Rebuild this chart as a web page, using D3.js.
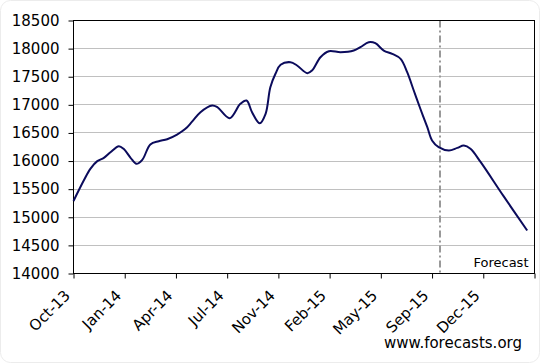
<!DOCTYPE html>
<html>
<head>
<meta charset="utf-8">
<script src="https://cdn.jsdelivr.net/npm/d3@7"></script>
<style>
  body { margin: 0; background: #fff; }
  svg { display: block; }
</style>
</head>
<body>
<div id="wrapper"></div>
<script>
// category axis: one label every 14 periods
const tickLabels = ["Oct-13", "Jan-14", "Apr-14", "Jul-14", "Nov-14", "Feb-15", "May-15", "Sep-15", "Dec-15"]
const periodsPerTick = 14
const totalPeriods = 126
const forecastStart = 100.3

// period index and value
const periods = [0, 2.8, 4.6, 6.5, 8.3, 10.1, 12.4, 13.7, 15.6, 17.2, 18.8, 21.0, 23.3, 25.6, 28.3, 30.6, 32.4, 34.7, 37.9, 39.3, 42.7, 45.6, 47.3, 48.8, 50.9, 52.5, 53.8, 55.2, 56.6, 59.3, 61.1, 63.9, 65.2, 67.5, 69.8, 73.0, 76.6, 78.4, 80.7, 82.5, 84.8, 87.1, 89.4, 91.2, 93.0, 94.8, 96.7, 98.0, 99.8, 102.6, 104.9, 106.7, 108.5, 111.3, 117.5, 124.0]
const values = [15290, 15654, 15862, 15998, 16058, 16158, 16265, 16217, 16058, 15951, 16022, 16295, 16353, 16389, 16472, 16573, 16700, 16869, 16988, 16958, 16762, 17018, 17077, 16869, 16673, 16841, 17314, 17552, 17712, 17758, 17700, 17563, 17611, 17847, 17953, 17936, 17966, 18025, 18114, 18096, 17966, 17907, 17818, 17581, 17255, 16930, 16602, 16366, 16247, 16188, 16235, 16277, 16218, 15980, 15380, 14765]

const yTicks = d3.range(14000, 18501, 500)

const dataset = periods.map((p, i) => ({ period: p, value: values[i] }))
const xAccessor = d => d.period
const yAccessor = d => d.value

let dimensions = {
  width: 540,
  height: 363,
  margin: { top: 20.5, right: 5.5, bottom: 89.5, left: 73.5 },
}
dimensions.boundedWidth = dimensions.width - dimensions.margin.left - dimensions.margin.right
dimensions.boundedHeight = dimensions.height - dimensions.margin.top - dimensions.margin.bottom

const wrapper = d3.select("#wrapper")
  .append("svg")
  .attr("width", dimensions.width)
  .attr("height", dimensions.height)
  .style("font-family", "'DejaVu Sans', Verdana, sans-serif")

// faint rounded frame around the whole chart
wrapper.append("rect")
  .attr("x", 0.5).attr("y", 0.5)
  .attr("width", dimensions.width - 1).attr("height", dimensions.height - 1)
  .attr("rx", 10)
  .attr("fill", "none")
  .attr("stroke", "#ececec")

const bounds = wrapper.append("g")
  .attr("transform", `translate(${dimensions.margin.left}, ${dimensions.margin.top})`)

const xScale = d3.scaleLinear()
  .domain([0, totalPeriods])
  .range([0, dimensions.boundedWidth])

const yScale = d3.scaleLinear()
  .domain([14000, 18500])
  .range([dimensions.boundedHeight, 0])

// gridlines
bounds.append("g")
  .selectAll("line")
  .data(yTicks.slice(1, -1))
  .join("line")
  .attr("x1", 0)
  .attr("x2", dimensions.boundedWidth)
  .attr("y1", d => Math.round(yScale(d)))
  .attr("y2", d => Math.round(yScale(d)))
  .attr("stroke", "#c0c0c0")

// forecast divider
bounds.append("line")
  .attr("x1", Math.round(xScale(forecastStart)) - 0.5)
  .attr("x2", Math.round(xScale(forecastStart)) - 0.5)
  .attr("y1", 0)
  .attr("y2", dimensions.boundedHeight)
  .attr("stroke", "#999")
  .attr("stroke-width", 2)
  .attr("stroke-dasharray", "7,3,2,3")

// plot frame
bounds.append("rect")
  .attr("width", dimensions.boundedWidth)
  .attr("height", dimensions.boundedHeight)
  .attr("fill", "none")
  .attr("stroke", "#000")

const lineGenerator = d3.line()
  .x(d => xScale(xAccessor(d)))
  .y(d => yScale(yAccessor(d)))
  .curve(d3.curveCatmullRom.alpha(0.5))

bounds.append("path")
  .attr("d", lineGenerator(dataset))
  .attr("fill", "none")
  .attr("stroke", "#0b0b5c")
  .attr("stroke-width", 2)
  .attr("stroke-linejoin", "round")

// y axis
const yAxisGenerator = d3.axisLeft(yScale)
  .tickValues(yTicks)
  .tickFormat(d3.format("d"))
  .tickSize(5)
  .tickPadding(9)

const yAxis = bounds.append("g").call(yAxisGenerator)
yAxis.select(".domain").remove()
yAxis.selectAll("line").attr("stroke", "#000")
yAxis.selectAll("text")
  .attr("fill", "#000")
  .style("font-size", "15px")
  .style("font-family", "'DejaVu Sans', Verdana, sans-serif")

// x axis
const xAxisGenerator = d3.axisBottom(xScale)
  .tickValues(d3.range(0, totalPeriods + 1, periodsPerTick))
  .tickFormat(d => tickLabels[d / periodsPerTick] || "")
  .tickSize(5)

const xAxis = bounds.append("g")
  .attr("transform", `translate(0, ${dimensions.boundedHeight})`)
  .call(xAxisGenerator)
xAxis.select(".domain").remove()
xAxis.selectAll("line").attr("stroke", "#000")
xAxis.selectAll("text")
  .attr("fill", "#000")
  .style("font-size", "15px")
  .style("font-family", "'DejaVu Sans', Verdana, sans-serif")
  .attr("text-anchor", "end")
  .attr("y", 0)
  .attr("dy", 0)
  .attr("transform", "translate(-3, 23) rotate(-45)")

// labels
bounds.append("text")
  .attr("x", dimensions.boundedWidth - 6)
  .attr("y", dimensions.boundedHeight - 7)
  .attr("text-anchor", "end")
  .style("font-size", "13px")
  .text("Forecast")

wrapper.append("text")
  .attr("x", 522)
  .attr("y", 348)
  .attr("text-anchor", "end")
  .style("font-size", "15px")
  .text("www.forecasts.org")
</script>
</body>
</html>
